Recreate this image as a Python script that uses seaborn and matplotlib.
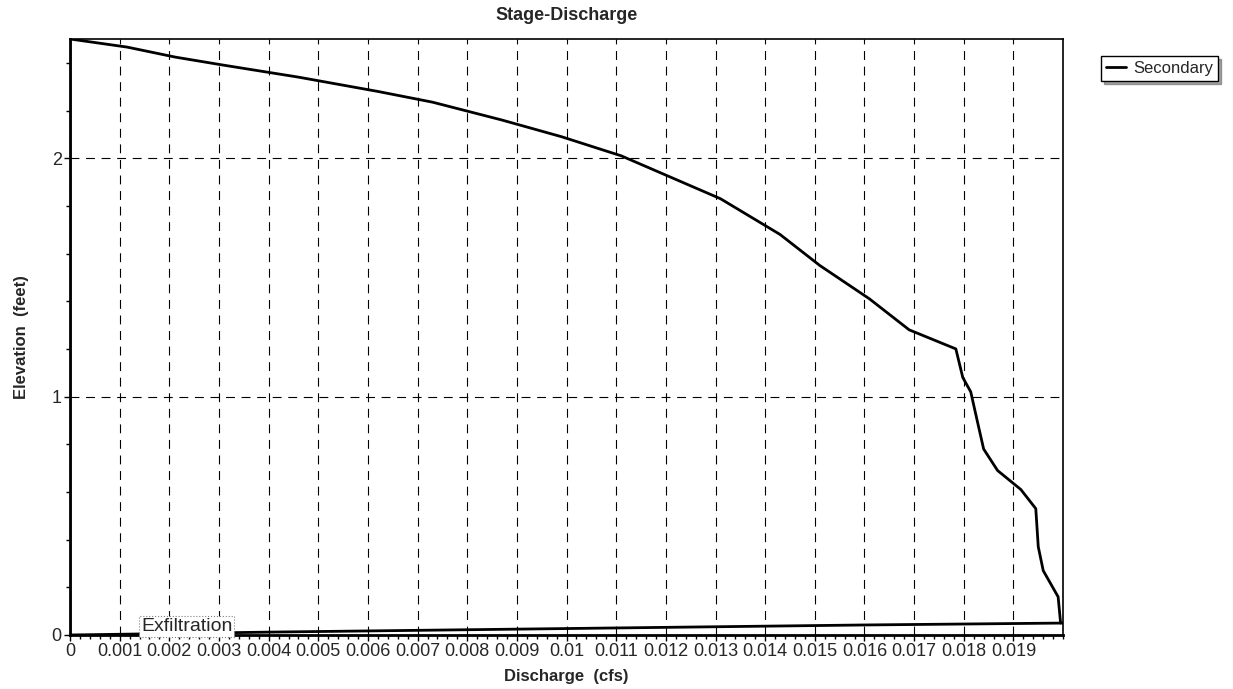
import numpy as np
import pandas as pd
import matplotlib
matplotlib.use("Agg")
import matplotlib.pyplot as plt
import seaborn as sns
from matplotlib.ticker import MultipleLocator, FuncFormatter

# Secondary outlet curve (discharge cfs, elevation feet)
secondary_q = [0.0, 0.0, 0.00115, 0.00212, 0.0031, 0.0046, 0.0062, 0.0073, 0.0087,
               0.0099, 0.0111, 0.0121, 0.0131, 0.0143, 0.0151, 0.0161, 0.0169,
               0.01784, 0.01798, 0.01814, 0.01828, 0.0184, 0.01868, 0.01915,
               0.01945, 0.0195, 0.0196, 0.0199, 0.01995]
secondary_elev = [0.0, 2.5, 2.466, 2.424, 2.39, 2.34, 2.28, 2.235, 2.16,
                  2.09, 2.01, 1.92, 1.83, 1.68, 1.55, 1.41, 1.28,
                  1.20, 1.08, 1.02, 0.89, 0.78, 0.69, 0.61,
                  0.53, 0.37, 0.27, 0.16, 0.05]

# Exfiltration curve along the bottom
exfil_q = [0.0, 0.004, 0.008, 0.012, 0.016, 0.02]
exfil_elev = [0.0, 0.012, 0.022, 0.032, 0.042, 0.05]

x_ticks = [i / 1000 for i in range(0, 20)]
y_ticks = [0, 1, 2]

sec = pd.DataFrame({"q": secondary_q, "elev": secondary_elev})
exf = pd.DataFrame({"q": exfil_q, "elev": exfil_elev})

sns.set_style("white")
plt.rcParams['font.family'] = ['Liberation Sans', 'DejaVu Sans']

fig = plt.figure(figsize=(12.33, 6.89), dpi=100)
ax = fig.add_axes([0.0568, 0.0784, 0.8054, 0.865])

sns.lineplot(data=sec, x="q", y="elev", sort=False, color="black", lw=2.0, ax=ax,
             label="Secondary", estimator=None)
sns.lineplot(data=exf, x="q", y="elev", sort=False, color="black", lw=2.0, ax=ax,
             estimator=None, legend=False)

ax.set_xlim(0, 0.02)
ax.set_ylim(0, 2.5)
ax.set_xticks(x_ticks)
ax.xaxis.set_major_formatter(FuncFormatter(lambda v, p: "%g" % round(v, 4)))
ax.set_yticks(y_ticks)
ax.xaxis.set_minor_locator(MultipleLocator(0.0002))
ax.yaxis.set_minor_locator(MultipleLocator(0.2))
ax.tick_params(axis="both", which="major", direction="out", length=4, width=1,
               labelsize=13, color="black", pad=2)
ax.tick_params(axis="both", which="minor", direction="out", length=3, width=1,
               color="black")
ax.tick_params(axis="x", which="both", bottom=True)
ax.tick_params(axis="y", which="both", left=True)

ax.grid(True, which="major", color="black", linestyle=(0, (8, 6)), linewidth=0.8)

for side in ["left", "bottom"]:
    ax.spines[side].set_linewidth(2.0)
for side in ["top", "right"]:
    ax.spines[side].set_linewidth(1.2)
for s in ax.spines.values():
    s.set_color("black")

ax.set_title("Stage-Discharge", fontsize=13, fontweight="bold", pad=14)
ax.set_xlabel("Discharge  (cfs)", fontsize=12, fontweight="bold", labelpad=6)
ax.set_ylabel("Elevation  (feet)", fontsize=12, fontweight="bold", labelpad=16)

ax.text(0.00235, 0.0, "Exfiltration", fontsize=14, ha="center", va="bottom",
        zorder=5,
        bbox=dict(boxstyle="square,pad=0.1", fc="white", ec="gray", ls=":", lw=0.8))

leg = ax.legend(loc="upper left", bbox_to_anchor=(1.03, 0.985), frameon=True,
                fontsize=12, handlelength=1.2, handletextpad=0.4,
                borderpad=0.3, fancybox=False, shadow=True)
leg.get_frame().set_edgecolor("black")
leg.get_frame().set_linewidth(1.0)

fig.savefig("out.png", dpi=100)
